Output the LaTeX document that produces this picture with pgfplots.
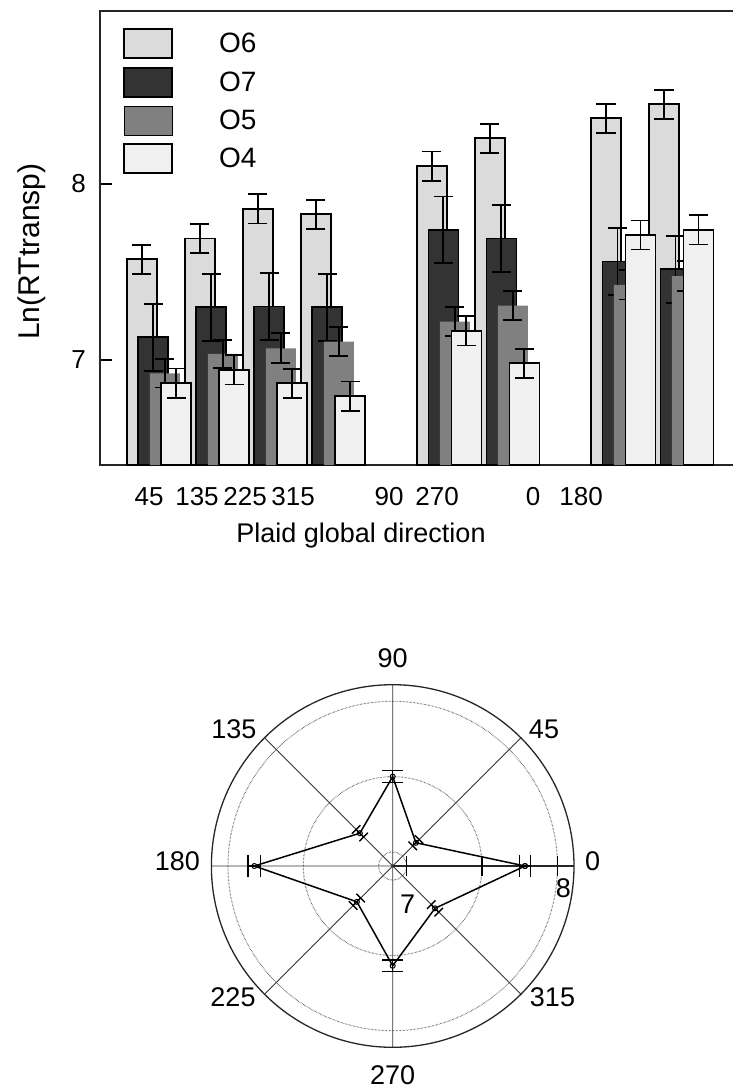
\documentclass[border=0pt]{standalone}
\usepackage{fontspec}
\setmainfont{Liberation Sans}
\usepackage{pgfplots}
\pgfplotsset{compat=1.18}
\usepackage{pgfplotstable}
\usepgfplotslibrary{polar}

\pgfplotstableread{
pos O6 O6e O7 O7e O5 O5e O4 O4e
1 7.572 0.082 7.129 0.19 6.924 0.080 6.868 0.083
2 7.691 0.083 7.299 0.19 7.034 0.080 6.943 0.083
3 7.858 0.083 7.303 0.19 7.066 0.085 6.868 0.082
4 7.828 0.083 7.299 0.19 7.104 0.083 6.795 0.083
6 8.102 0.083 7.739 0.19 7.218 0.084 7.165 0.083
7 8.260 0.082 7.691 0.19 7.309 0.082 6.981 0.082
9 8.373 0.082 7.559 0.19 7.426 0.083 7.710 0.082
10 8.453 0.082 7.515 0.19 7.477 0.085 7.739 0.083
}\bardata

\pgfplotstableread{
a v
0 7.785
45 7.125
90 7.500
135 7.215
180 7.825
225 7.243
270 7.569
315 7.304
360 7.785
}\polardata

\pgfplotsset{
  mybar/.style={
    ybar, bar width=30pt, bar shift=0pt,
    legend image code/.code={\draw[##1] (0pt,-14.5pt) rectangle (48pt,14.5pt);},
    /pgfplots/error bars/y dir=both,
    /pgfplots/error bars/y explicit,
    /pgfplots/error bars/error bar style={line width=1.8pt, black, solid},
    /pgfplots/error bars/error mark options={rotate=90, line width=1.8pt, black, mark size=9.6pt},
  },
}

\begin{document}
\begin{tikzpicture}
\useasboundingbox (0pt,0pt) rectangle (732pt,-1091pt);

\begin{axis}[
  at={(100pt,-465pt)}, anchor=south west,
  width=634pt, height=454pt, scale only axis,
  xmin=-0.017, xmax=10.91, ymin=6.403, ymax=8.983,
  xtick={0.8276,1.6552,2.4828,3.3103,4.9655,5.7931,7.4483,8.2759},
  xticklabels={45,135,225,315,90,270,0,180},
  ytick={7,8}, yticklabels={7,8},
  tick pos=left, tick align=inside, major tick length=12pt,
  xtick style={draw=none},
  ytick style={line width=1.4pt, black},
  axis line style={line width=1.4pt, black!85},
  tick label style={font=\fontsize{26}{29}\selectfont},
  xticklabel style={inner sep=0pt, yshift=-22pt},
  yticklabel style={inner sep=0pt, xshift=-14pt},
  xlabel={Plaid global direction},
  xlabel style={font=\fontsize{27}{30}\selectfont, at={(axis description cs:0.4117,-0.1278)}, anchor=north, inner sep=0pt},
  ylabel={Ln(RTtransp)},
  ylabel style={font=\fontsize{30}{33}\selectfont, at={(axis description cs:-0.0852,0.4698)}, anchor=south, inner sep=0pt},
  legend style={at={(0.0368,0.9619)}, anchor=north west, draw=none, fill=none,
    inner sep=0pt, outer sep=0pt, row sep=8pt,
    font=\fontsize{28}{30}\selectfont, nodes={inner sep=0pt},
    /tikz/every odd column/.append style={column sep=46pt}},
  legend cell align=left,
]
\addplot[mybar, fill=black!14, draw=black, line width=1.7pt]
  table[x expr=\thisrow{pos}-0.2974, y=O6, y error=O6e] {\bardata};
\addlegendentry{O6}
\addplot[mybar, fill=black!80, draw=black, line width=1.7pt]
  table[x expr=\thisrow{pos}-0.0991, y=O7, y error=O7e] {\bardata};
\addlegendentry{O7}
\addplot[mybar, fill=black!50, draw=none]
  table[x expr=\thisrow{pos}+0.0991, y=O5, y error=O5e] {\bardata};
\addlegendentry{O5}
\addplot[mybar, fill=black!6, draw=black, line width=1.7pt]
  table[x expr=\thisrow{pos}+0.2974, y=O4, y error=O4e] {\bardata};
\addlegendentry{O4}
\end{axis}

\begin{polaraxis}[
  at={(392.7pt,-866pt)}, anchor=center,
  width=362.6pt, height=362.6pt, scale only axis,
  ymin=0, ymax=1.203,
  y filter/.expression={y-6.907},
  xtick={0,45,...,315}, xticklabel={\relax},
  xtick style={draw=none},
  ytick={1.093}, yticklabels={8},
  extra y ticks={0.093,0.593}, extra y tick labels={7,{}},
  extra y tick style={grid=major, yticklabel style={yshift=-17pt, xshift=-5pt}},
  xmajorgrids=true, ymajorgrids=true,
  x grid style={black!80, line width=0.8pt},
  y grid style={black!80, densely dotted, line width=1pt},
  axis line style={line width=1.3pt, black!85},
  tick align=center, major tick length=20pt,
  ytick style={black, line width=1.2pt},
  tick label style={font=\fontsize{27}{30}\selectfont},
  yticklabel style={anchor=north, inner sep=0pt, yshift=-22pt, xshift=6pt},
]
\addplot[black, line width=1.5pt, mark=o, mark size=2.5pt, mark options={solid, line width=1pt}]
  table[x=a, y=v] {\polardata};
% radial error bars
\addplot[black, line width=1.4pt] coordinates {(0,7.747) (0,7.823)};
\addplot[black, line width=1.4pt] coordinates {(45,7.095) (45,7.155)};
\addplot[black, line width=1.4pt] coordinates {(90,7.460) (90,7.540)};
\addplot[black, line width=1.4pt] coordinates {(135,7.180) (135,7.250)};
\addplot[black, line width=1.4pt] coordinates {(180,7.784) (180,7.866)};
\addplot[black, line width=1.4pt] coordinates {(225,7.208) (225,7.278)};
\addplot[black, line width=1.4pt] coordinates {(270,7.530) (270,7.608)};
\addplot[black, line width=1.4pt] coordinates {(315,7.269) (315,7.339)};
% caps
\addplot[only marks, mark=|, mark size=11pt, mark options={line width=1.4pt, black}]
  coordinates {(0,7.747) (0,7.823) (180,7.784) (180,7.866)};
\addplot[only marks, mark=-, mark size=10.5pt, mark options={line width=1.4pt, black}]
  coordinates {(90,7.460) (90,7.540) (270,7.530) (270,7.608)};
\addplot[only marks, mark=|, mark size=6pt, mark options={line width=1.4pt, black, rotate=45}]
  coordinates {(45,7.095) (45,7.155) (225,7.208) (225,7.278)};
\addplot[only marks, mark=|, mark size=6pt, mark options={line width=1.4pt, black, rotate=-45}]
  coordinates {(135,7.180) (135,7.250) (315,7.269) (315,7.339)};
\end{polaraxis}

% angular labels of the polar plot
\begin{scope}[every node/.style={font=\fontsize{27}{30}\selectfont, inner sep=0pt}]
\node[anchor=west] at (585pt,-861pt) {0};
\node at (544pt,-729pt) {45};
\node at (392.7pt,-658pt) {90};
\node at (233.8pt,-729pt) {135};
\node[anchor=east] at (200pt,-861pt) {180};
\node at (233pt,-997pt) {225};
\node at (392.7pt,-1075pt) {270};
\node at (552.5pt,-997pt) {315};
\end{scope}
\end{tikzpicture}
\end{document}
